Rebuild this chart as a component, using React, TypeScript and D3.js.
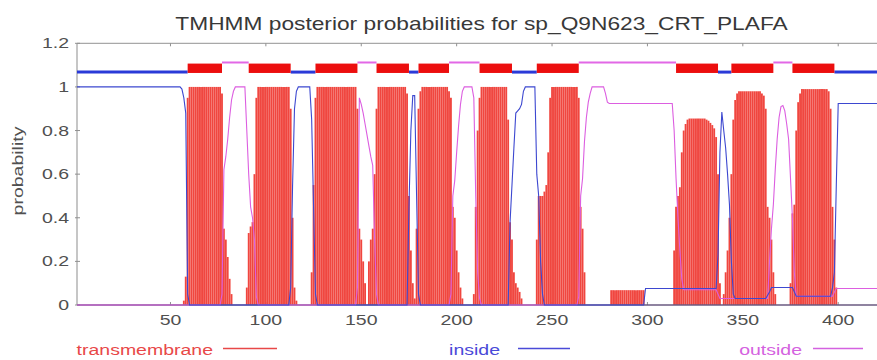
import React, { useEffect, useRef } from "react";
import * as d3 from "d3";

const chartTitle = "TMHMM posterior probabilities for sp_Q9N623_CRT_PLAFA";
const seqLength = 424;
const xTicks = [50, 100, 150, 200, 250, 300, 350, 400];
const yTicks = [0, 0.2, 0.4, 0.6, 0.8, 1, 1.2];
const yTickLabels = ["0", "0.2", "0.4", "0.6", "0.8", "1", "1.2"];

// predicted helices (start, end residue) for the topology bar at the top
const tmHelices = [
  [59, 77], [91, 113], [126, 148], [158, 175], [180, 196],
  [212, 229], [242, 264], [315, 337], [344, 366], [376, 398],
];

// transmembrane posterior, per residue, starting at tmProfileStarts[i]
const tmProfileStarts = [57, 90, 124, 154, 178, 209, 242, 281, 314, 340, 375];
const tmProfiles = [
  [0.02, 0.13, 0.95, 1, 1, 1, 1, 1, 1, 1, 1, 1, 1, 1, 1, 1, 1, 1, 1, 1, 0.97, 0.35, 0.3, 0.22, 0.12, 0.05],
  [0.08, 0.33, 0.36, 0.38, 0.6, 0.95, 1, 1, 1, 1, 1, 1, 1, 1, 1, 1, 1, 1, 1, 1, 1, 1, 1, 0.9, 0.4, 0.08, 0.02],
  [0.15, 0.55, 0.95, 1, 1, 1, 1, 1, 1, 1, 1, 1, 1, 1, 1, 1, 1, 1, 1, 1, 1, 1, 1, 1, 0.9, 0.35, 0.3, 0.2, 0.1],
  [0.2, 0.3, 0.35, 0.6, 0.9, 1, 1, 1, 1, 1, 1, 1, 1, 1, 1, 1, 1, 1, 1, 1, 0.97, 0.5, 0.25, 0.1],
  [0.03, 0.35, 0.9, 0.98, 1, 1, 1, 1, 1, 1, 1, 1, 1, 1, 1, 1, 1, 1, 0.98, 0.95, 0.45, 0.4, 0.25, 0.15, 0.08, 0.03],
  [0.05, 0.45, 0.8, 0.95, 1, 1, 1, 1, 1, 1, 1, 1, 1, 1, 1, 1, 1, 1, 0.85, 0.38, 0.3, 0.15, 0.1, 0.08, 0.06, 0.03],
  [0.3, 0.5, 0.5, 0.5, 0.52, 0.55, 0.7, 0.95, 1, 1, 1, 1, 1, 1, 1, 1, 1, 1, 1, 1, 1, 1, 0.95, 0.45, 0.35, 0.15],
  [0.068, 0.068, 0.068, 0.068, 0.068, 0.068, 0.068, 0.068, 0.068, 0.068, 0.068, 0.068, 0.068, 0.068, 0.068, 0.068, 0.068, 0.068],
  [0.25, 0.45, 0.5, 0.54, 0.7, 0.8, 0.83, 0.85, 0.855, 0.855, 0.855, 0.855, 0.855, 0.855, 0.855, 0.855, 0.855, 0.85, 0.845, 0.835, 0.825, 0.81, 0.77, 0.6, 0.1],
  [0.05, 0.15, 0.25, 0.4, 0.6, 0.85, 0.94, 0.97, 0.98, 0.98, 0.98, 0.98, 0.98, 0.98, 0.98, 0.98, 0.98, 0.98, 0.98, 0.98, 0.97, 0.96, 0.9, 0.45, 0.4, 0.3, 0.15, 0.05],
  [0.1, 0.42, 0.46, 0.8, 0.93, 0.97, 0.99, 0.99, 0.99, 0.99, 0.99, 0.99, 0.99, 0.99, 0.99, 0.99, 0.99, 0.99, 0.99, 0.99, 0.98, 0.9, 0.45, 0.3, 0.08],
];

// [residue, probability]
const insidePoints = [
  [1, 1], [55, 1], [56, 0.99], [57, 0.95], [58, 0.88], [59, 0.05], [60, 0],
  [112, 0], [113, 0.08], [114, 0.55], [115, 0.9], [116, 0.98], [117, 1], [123, 1], [124, 0.85], [125, 0.45], [126, 0.05], [127, 0],
  [174, 0], [175, 0.45], [176, 0.8], [177, 0.96], [178, 0.96], [179, 0.5], [180, 0.05], [181, 0],
  [227, 0], [228, 0.38], [229, 0.55], [230, 0.72], [231, 0.88], [232, 0.89], [233, 0.9], [234, 0.92], [235, 0.98], [236, 1], [241, 1],
  [242, 0.6], [243, 0.5], [244, 0.2], [245, 0.05], [246, 0],
  [298, 0], [299, 0.076], [336, 0.076], [337, 0.23], [338, 0.7], [339, 0.885], [340, 0.8], [341, 0.72], [342, 0.6], [343, 0.46],
  [344, 0.2], [345, 0.05], [346, 0.03], [362, 0.03], [364, 0.06], [365, 0.08], [376, 0.08], [378, 0.04], [396, 0.04],
  [397, 0.08], [398, 0.15], [399, 0.55], [400, 0.924], [424, 0.924],
];

const outsidePoints = [
  [1, 0], [76, 0], [77, 0.05], [78, 0.62], [79, 0.68], [80, 0.76], [81, 0.86], [82, 0.94], [83, 0.98], [84, 1], [89, 1],
  [90, 0.8], [91, 0.6], [92, 0.45], [93, 0.4], [94, 0.3], [95, 0.04], [96, 0],
  [147, 0], [148, 0.08], [149, 0.95], [150, 0.92], [151, 0.88], [152, 0.83], [153, 0.78], [154, 0.73], [155, 0.68], [156, 0.64],
  [157, 0.3], [158, 0.05], [159, 0],
  [196, 0], [197, 0.05], [198, 0.5], [199, 0.57], [200, 0.7], [201, 0.82], [202, 0.92], [203, 0.98], [204, 1], [208, 1],
  [209, 0.95], [210, 0.5], [211, 0.15], [212, 0.03], [213, 0],
  [263, 0], [264, 0.04], [265, 0.5], [266, 0.58], [267, 0.75], [268, 0.86], [269, 0.93], [270, 0.97], [271, 1], [277, 1],
  [278, 0.97], [279, 0.93], [280, 0.924], [313, 0.924], [314, 0.8], [315, 0.58], [316, 0.4], [317, 0.25], [318, 0.12],
  [319, 0.07], [336, 0.07], [337, 0.05], [338, 0.03], [363, 0.03], [364, 0.2], [365, 0.35], [366, 0.46], [367, 0.62],
  [368, 0.76], [369, 0.86], [370, 0.91], [371, 0.915], [372, 0.89], [373, 0.83], [374, 0.76], [375, 0.58], [376, 0.4],
  [377, 0.15], [378, 0.04], [397, 0.04], [398, 0.06], [399, 0.076], [424, 0.076],
];

const legendItems = ["transmembrane", "inside", "outside"];

const W = 877;
const H = 360;
const SX = 1.3; // the original bitmap font is wider than Arial

function App() {
  const chartRef = useRef<SVGSVGElement>(null);

  useEffect(() => {
    drawChart();
  }, []);

  const drawChart = () => {
    const svg = d3.select(chartRef.current);
    svg.selectAll("*").remove();

    const x = d3.scaleLinear().domain([1, seqLength]).range([77, 884]);
    const y = d3.scaleLinear().domain([0, 1.2]).range([305, 43.3]);

    const label = (
      str: string,
      tx: number,
      ty: number,
      size: number,
      anchor: string,
      fill: string,
      rot = 0
    ) =>
      svg
        .append("text")
        .attr("transform", `translate(${tx},${ty}) rotate(${rot}) scale(${SX},1)`)
        .attr("text-anchor", anchor)
        .style("font-family", "'Liberation Sans', Arial, sans-serif")
        .style("font-size", `${size}px`)
        .attr("fill", fill)
        .text(str);

    svg.append("rect").attr("width", W).attr("height", H).attr("fill", "#fff");

    // frame
    svg.append("line").attr("x1", x(1)).attr("x2", W).attr("y1", y(1.2)).attr("y2", y(1.2))
      .attr("stroke", "#a8a8a8").attr("stroke-width", 1.2);
    svg.append("line").attr("x1", x(1)).attr("x2", x(1)).attr("y1", y(1.2)).attr("y2", y(0))
      .attr("stroke", "#a0a0a0").attr("stroke-width", 1.2);

    yTicks.forEach((t) => {
      svg.append("line").attr("x1", x(1) - 2).attr("x2", x(1) + 3).attr("y1", y(t)).attr("y2", y(t))
        .attr("stroke", "#909090");
    });
    xTicks.forEach((t) => {
      svg.append("line").attr("x1", x(t)).attr("x2", x(t)).attr("y1", y(1.2)).attr("y2", y(1.2) + 3)
        .attr("stroke", "#909090");
      svg.append("line").attr("x1", x(t)).attr("x2", x(t)).attr("y1", y(0)).attr("y2", y(0) - 3)
        .attr("stroke", "#909090");
    });

    // transmembrane impulses
    const tm: number[] = new Array(seqLength + 1).fill(0);
    tmProfiles.forEach((vals, i) => {
      vals.forEach((v, j) => {
        tm[tmProfileStarts[i] + j] = v;
      });
    });
    svg
      .append("g")
      .selectAll("line")
      .data(tm.map((v, r) => ({ r, v })).filter((d) => d.v > 0))
      .join("line")
      .attr("x1", (d) => x(d.r))
      .attr("x2", (d) => x(d.r))
      .attr("y1", y(0))
      .attr("y2", (d) => y(d.v))
      .attr("stroke", "#f0463f")
      .attr("stroke-width", 1.85);

    // bottom axis
    svg.append("line").attr("x1", x(1)).attr("x2", W).attr("y1", y(0)).attr("y2", y(0))
      .attr("stroke", "#6a5a80").attr("stroke-width", 1.5);

    const line = d3
      .line<number[]>()
      .x((d) => x(d[0]))
      .y((d) => y(d[1]));

    svg.append("path").attr("d", line(outsidePoints)).attr("fill", "none")
      .attr("stroke", "#dc5ee0").attr("stroke-width", 1.1);
    svg.append("path").attr("d", line(insidePoints)).attr("fill", "none")
      .attr("stroke", "#3d48d0").attr("stroke-width", 1.1);

    // topology bar
    const loops: number[][] = [];
    let prev = 1;
    tmHelices.forEach(([s, e]) => {
      loops.push([prev, s]);
      prev = e;
    });
    loops.push([prev, seqLength]);
    loops.forEach(([a, b], i) => {
      const inside = i % 2 === 0;
      svg
        .append("line")
        .attr("x1", x(a))
        .attr("x2", x(b))
        .attr("y1", y(inside ? 1.068 : 1.112))
        .attr("y2", y(inside ? 1.068 : 1.112))
        .attr("stroke", inside ? "#2a3ad8" : "#e268e6")
        .attr("stroke-width", inside ? 3 : 2);
    });
    svg
      .append("g")
      .selectAll("rect")
      .data(tmHelices)
      .join("rect")
      .attr("x", (d) => x(d[0]))
      .attr("width", (d) => x(d[1]) - x(d[0]))
      .attr("y", y(1.107))
      .attr("height", y(1.064) - y(1.107))
      .attr("fill", "#ec0e0e");

    // texts
    label(chartTitle, 481.5, 30, 17.5, "middle", "#383838");
    yTicks.forEach((t, i) => label(yTickLabels[i], 69, y(t) + 5, 15, "end", "#505050"));
    xTicks.forEach((t) => label(String(t), x(t), 325, 15, "middle", "#505050"));
    label("probability", 23, 171, 15, "middle", "#505050", -90);

    const legendColors = ["#e84848", "#4a4ad8", "#d462e0"];
    const legendTextEnd = [213, 500, 802];
    const legendLine = [[223, 277], [518, 570], [813, 863]];
    legendItems.forEach((name, i) => {
      label(name, legendTextEnd[i], 355, 15, "end", legendColors[i]);
      svg.append("line").attr("x1", legendLine[i][0]).attr("x2", legendLine[i][1])
        .attr("y1", 348.5).attr("y2", 348.5).attr("stroke", legendColors[i]).attr("stroke-width", 1.3);
    });
  };

  return (
    <svg
      ref={chartRef}
      width={W}
      height={H}
      style={{ position: "absolute", left: 0, top: 0, background: "#fff" }}
    ></svg>
  );
}

export default App;
